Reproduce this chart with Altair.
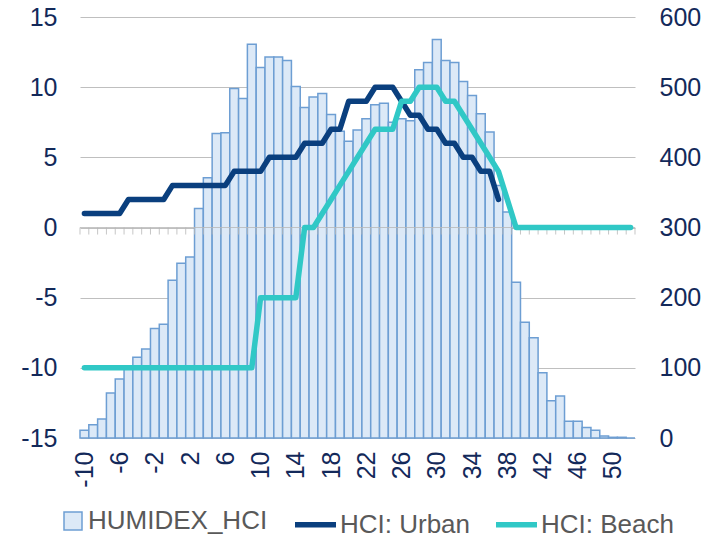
import altair as alt
import pandas as pd

# ---------------- data ----------------
categories = [-10, -9, -8, -7, -6, -5, -4, -3, -2, -1, 0, 1, 2, 3, 4, 5, 6, 7, 8, 9,
              10, 11, 12, 13, 14, 15, 16, 17, 18, 19, 20, 21, 22, 23, 24, 25, 26, 27, 28, 29,
              30, 31, 32, 33, 34, 35, 36, 37, 38, 39, 40, 41, 42, 43, 44, 45, 46, 47, 48, 49,
              50, 51, 52]
humidex_counts = [11, 19, 27, 64, 84, 100, 115, 127, 156, 162,
                  225, 249, 258, 327, 371, 434, 435, 498, 484, 561,
                  528, 543, 543, 538, 501, 471, 486, 491, 461, 437,
                  423, 439, 455, 475, 477, 450, 455, 452, 525, 535,
                  568, 538, 535, 508, 488, 462, 436, 360, 322, 222,
                  165, 143, 93, 53, 60, 24, 24, 15, 11, 3,
                  1, 1, 0]
hci_urban = [1, 1, 1, 1, 1, 2, 2, 2, 2, 2,
             3, 3, 3, 3, 3, 3, 3, 4, 4, 4,
             4, 5, 5, 5, 5, 6, 6, 6, 7, 7,
             9, 9, 9, 10, 10, 10, 9, 8, 8, 7,
             7, 6, 6, 5, 5, 4, 4, 2]
hci_beach = [-10, -10, -10, -10, -10, -10, -10, -10, -10, -10,
             -10, -10, -10, -10, -10, -10, -10, -10, -10, -10,
             -5, -5, -5, -5, -5, 0, 0, 1, 2, 3,
             4, 5, 6, 7, 7, 7, 9, 9, 10, 10,
             10, 9, 9, 8, 7, 6, 5, 4, 2, 0,
             0, 0, 0, 0, 0, 0, 0, 0, 0, 0,
             0, 0, 0]
x_labels = [-10, -6, -2, 2, 6, 10, 14, 18, 22, 26, 30, 34, 38, 42, 46, 50]
left_ticks = [-15, -10, -5, 0, 5, 10, 15]
right_ticks = [0, 100, 200, 300, 400, 500, 600]
series_names = ["HUMIDEX_HCI", "HCI: Urban", "HCI: Beach"]

# ---------------- styles ----------------
FONT = "Liberation Sans"
AXIS_TEXT = "#13295a"
LEGEND_TEXT = "#595959"
BAR_FILL = "#dce9f7"
BAR_STROKE = "#6d9ed3"
URBAN = "#0a3f7e"
BEACH = "#30c8c6"
GRID = "#bfbfbf"

# ---------------- tables ----------------
hist = pd.DataFrame({"cat": categories, "count": humidex_counts})
hist["x0"] = hist["cat"] - 0.5
hist["x1"] = hist["cat"] + 0.5
hist["base"] = 0
hist["hist"] = series_names[0]

urban_df = pd.DataFrame({"x": categories[:len(hci_urban)], "v": hci_urban, "series": series_names[1]})
beach_df = pd.DataFrame({"x": categories, "v": hci_beach, "series": series_names[2]})
zero_df = pd.DataFrame({"x": [categories[0] - 0.5], "x2": [categories[-1] + 0.5], "v": [0]})
tick_x = [c - 0.5 for c in categories] + [categories[-1] + 0.5]
tick_df = pd.DataFrame({"x": tick_x, "v": [0] * len(tick_x), "v2": [-0.5] * len(tick_x)})

xscale = alt.Scale(domain=[categories[0] - 0.5, categories[-1] + 0.5], nice=False, zero=False)
xaxis = alt.Axis(values=x_labels, labelAngle=-90, labelExpr="'' + datum.value",
                 ticks=False, tickSize=0, domain=False, grid=False, labelPadding=13,
                 labelFont=FONT, labelFontSize=25, labelColor=AXIS_TEXT,
                 labelFlush=False, labelOverlap=False, title=None)

yscale_left = alt.Scale(domain=[-15, 15], nice=False, zero=False)
yaxis_left = alt.Axis(orient="left", values=left_ticks, grid=True, gridColor=GRID, gridWidth=1,
                      ticks=False, tickSize=0, domain=False, labelPadding=23,
                      labelExpr="'' + datum.value", labelFont=FONT, labelFontSize=25,
                      labelColor=AXIS_TEXT, title=None)

fill_legend = alt.Legend(orient="none", legendX=-20, legendY=491, title=None,
                         symbolType="square", symbolSize=324, symbolStrokeColor=BAR_STROKE,
                         symbolStrokeWidth=1.5, labelFont=FONT, labelFontSize=26,
                         labelColor=LEGEND_TEXT, labelOffset=2, labelLimit=400, padding=0)
line_legend = alt.Legend(orient="none", legendX=212, legendY=484, title=None,
                         direction="horizontal", symbolType="stroke", symbolSize=1681,
                         symbolStrokeWidth=5.5, labelFont=FONT, labelFontSize=26,
                         labelColor=LEGEND_TEXT, labelOffset=1, columnPadding=14,
                         labelLimit=400, padding=0)
line_scale = alt.Scale(domain=series_names[1:], range=[URBAN, BEACH])

bars = alt.Chart(hist).mark_rect(stroke=BAR_STROKE, strokeWidth=1.5).encode(
    x=alt.X("x0:Q", scale=xscale, axis=xaxis),
    x2="x1",
    y=alt.Y("count:Q", scale=alt.Scale(domain=[0, 600], nice=False),
            axis=alt.Axis(orient="right", values=right_ticks, grid=False, ticks=False,
                          tickSize=0, domain=False, labelPadding=24, labelFont=FONT,
                          labelFontSize=25, labelColor=AXIS_TEXT, title=None)),
    y2="base",
    fill=alt.Fill("hist:N", scale=alt.Scale(domain=series_names[:1], range=[BAR_FILL]),
                  legend=fill_legend),
)

zero_rule = alt.Chart(zero_df).mark_rule(color="#b8b8b8", strokeWidth=1, opacity=0.8).encode(
    x=alt.X("x:Q", scale=xscale, axis=xaxis),
    x2="x2",
    y=alt.Y("v:Q", scale=yscale_left, axis=yaxis_left),
)
cat_ticks = alt.Chart(tick_df).mark_rule(color="#b8b8b8", strokeWidth=1, opacity=0.8).encode(
    x=alt.X("x:Q", scale=xscale, axis=xaxis),
    y=alt.Y("v:Q", scale=yscale_left, axis=yaxis_left),
    y2="v2",
)
urban_line = alt.Chart(urban_df).mark_line(strokeWidth=5.5, strokeCap="round", strokeJoin="round").encode(
    x=alt.X("x:Q", scale=xscale, axis=xaxis),
    y=alt.Y("v:Q", scale=yscale_left, axis=yaxis_left),
    stroke=alt.Stroke("series:N", scale=line_scale, legend=line_legend),
)
beach_line = alt.Chart(beach_df).mark_line(strokeWidth=5.5, strokeCap="round", strokeJoin="round").encode(
    x=alt.X("x:Q", scale=xscale, axis=xaxis),
    y=alt.Y("v:Q", scale=yscale_left, axis=yaxis_left),
    stroke=alt.Stroke("series:N", scale=line_scale, legend=line_legend),
)

inner = alt.layer(zero_rule, cat_ticks, urban_line, beach_line)
chart = alt.layer(bars, inner).resolve_scale(y="independent").properties(
    width=555, height=421,
    autosize=alt.AutoSizeParams(type="none"),
    padding={"left": 72, "top": 9, "right": 70, "bottom": 100},
).configure_view(strokeWidth=0)

chart.save("out.html", embed_options={"renderer": "svg", "actions": False})
